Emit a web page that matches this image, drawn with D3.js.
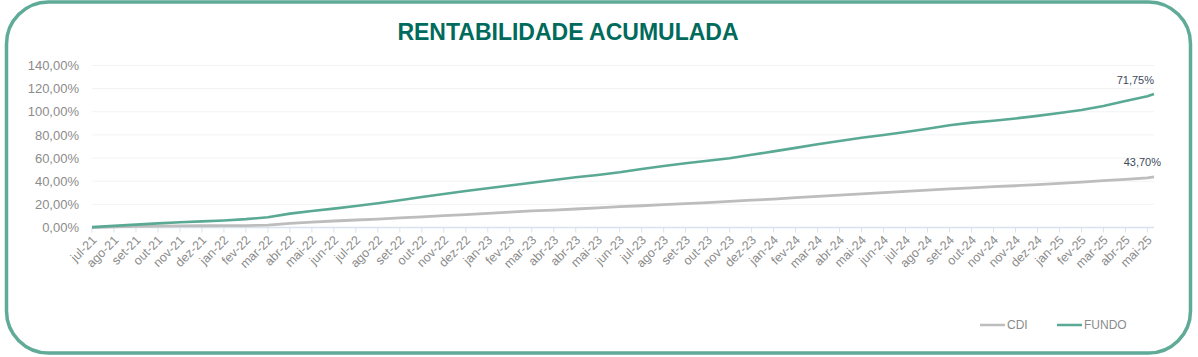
<!DOCTYPE html>
<html>
<head>
<meta charset="utf-8">
<script src="https://cdn.jsdelivr.net/npm/d3@7/dist/d3.min.js"></script>
<style>
  html, body { margin: 0; padding: 0; background: #ffffff; }
  svg { display: block; font-family: "Liberation Sans", Arial, sans-serif; }
</style>
</head>
<body>
<svg id="chart" width="1198" height="357"></svg>
<script>
// ---------- DATA ----------
const title = "RENTABILIDADE ACUMULADA";
const categories = [
  "jul-21","ago-21","set-21","out-21","nov-21","dez-21",
  "jan-22","fev-22","mar-22","abr-22","mai-22","jun-22","jul-22","ago-22","set-22","out-22","nov-22","dez-22",
  "jan-23","fev-23","mar-23","abr-23","abr-23","mai-23","jun-23","jul-23","ago-23","set-23","out-23","nov-23","dez-23",
  "jan-24","fev-24","mar-24","abr-24","mai-24","jun-24","jul-24","ago-24","set-24","out-24","nov-24","nov-24","dez-24",
  "jan-25","fev-25","mar-25","abr-25","mai-25"
];
// values (%) at each labelled position, plus one final point just after the last label
const fundo = [
  0.3, 1.4, 2.5, 3.6, 4.5, 5.3, 6.1, 7.2, 8.8, 12.0, 14.2, 16.3, 18.6, 21.0, 23.5, 26.3, 29.0, 31.5,
  33.9, 36.3, 38.7, 41.0, 43.4, 45.4, 47.7, 50.6, 53.2, 55.5, 57.7, 59.8, 62.8,
  65.8, 68.8, 71.9, 74.8, 77.6, 80.0, 82.5, 85.4, 88.3, 90.6, 92.3, 94.2, 96.5,
  98.9, 101.6, 105.0, 109.3, 113.5, 115.3
];
const cdi = [
  0.0, 0.5, 0.9, 1.2, 1.4, 1.5, 1.6, 1.7, 2.0, 3.6, 4.7, 5.6, 6.5, 7.3, 8.3, 9.2, 10.2, 11.2,
  12.2, 13.2, 14.3, 15.1, 16.0, 17.0, 18.0, 18.8, 19.7, 20.6, 21.5, 22.5, 23.6,
  24.6, 25.8, 26.9, 28.0, 29.1, 30.2, 31.3, 32.3, 33.3, 34.3, 35.3, 36.1, 37.1,
  38.2, 39.3, 40.5, 41.6, 42.8, 43.7
];
const lastPointOffset = 0.3; // final point lies this fraction of a step after the last label
const endLabels = { FUNDO: "71,75%", CDI: "43,70%" };
const yTicks = [0, 20, 40, 60, 80, 100, 120, 140];
const legendItems = ["CDI", "FUNDO"];

// ---------- STYLE ----------
const colors = { FUNDO: "#5aa994", CDI: "#bdbdbd" };
const W = 1198, H = 357;
const margin = { left: 92, right: 44, top: 65.5, bottom: 129.5 };

const svg = d3.select("#chart");

// frame
svg.append("rect")
  .attr("x", 6.5).attr("y", 2).attr("width", W - 14).attr("height", H - 6)
  .attr("rx", 42).attr("ry", 42)
  .attr("fill", "none").attr("stroke", "#5fab97").attr("stroke-width", 3.5);

// title
svg.append("text")
  .attr("x", 568).attr("y", 40)
  .attr("text-anchor", "middle")
  .attr("font-size", 23).attr("font-weight", "bold")
  .attr("fill", "#006b5d")
  .text(title);

const n = categories.length;
const x = d3.scaleLinear()
  .domain([0, n - 1 + lastPointOffset])
  .range([margin.left, W - margin.right]);
const y = d3.scaleLinear().domain([0, 140]).range([H - margin.bottom, margin.top]);

const idx = i => (i < n ? i : n - 1 + lastPointOffset);

// gridlines
svg.append("g").selectAll("line").data(yTicks.filter(t => t > 0)).join("line")
  .attr("x1", x(0)).attr("x2", x(n - 1 + lastPointOffset))
  .attr("y1", d => y(d)).attr("y2", d => y(d))
  .attr("stroke", "#f0f2f4").attr("stroke-width", 1);

// y axis labels
const yAxis = d3.axisLeft(y).tickValues(yTicks).tickSize(0).tickPadding(13)
  .tickFormat(d => d3.format(".2f")(d).replace(".", ",") + "%");
const gy = svg.append("g").attr("transform", `translate(${x(0)},0)`).call(yAxis);
gy.select(".domain").remove();
gy.selectAll("text").attr("font-size", 13).attr("fill", "#8c8c8c")
  .attr("font-family", "Liberation Sans, Arial, sans-serif");

// x axis
const gx = svg.append("g").attr("transform", `translate(0,${y(0)})`);
gx.append("line")
  .attr("x1", x(0)).attr("x2", x(n - 1 + lastPointOffset))
  .attr("stroke", "#d8e3ee").attr("stroke-width", 1.5);
gx.selectAll("line.tick").data(categories).join("line")
  .attr("class", "tick")
  .attr("x1", (d, i) => x(i)).attr("x2", (d, i) => x(i))
  .attr("y1", 0).attr("y2", 5)
  .attr("stroke", "#d8e3ee").attr("stroke-width", 1);
gx.selectAll("text").data(categories).join("text")
  .attr("transform", (d, i) => `translate(${x(i) + 3},${11}) rotate(-45)`)
  .attr("text-anchor", "end")
  .attr("dominant-baseline", "middle")
  .attr("font-size", 12.5).attr("fill", "#8c8c8c")
  .text(d => d);

// lines
const line = d3.line().x((d, i) => x(idx(i))).y(d => y(d));
svg.append("path").datum(cdi)
  .attr("d", line).attr("fill", "none")
  .attr("stroke", colors.CDI).attr("stroke-width", 2.8).attr("stroke-linejoin", "round");
svg.append("path").datum(fundo)
  .attr("d", line).attr("fill", "none")
  .attr("stroke", colors.FUNDO).attr("stroke-width", 2.6).attr("stroke-linejoin", "round");

// end labels
const lastI = fundo.length - 1;
svg.append("text")
  .attr("x", x(idx(lastI))).attr("y", y(fundo[lastI]) - 10)
  .attr("text-anchor", "end").attr("font-size", 11).attr("fill", "#3d4a5c")
  .text(endLabels.FUNDO);
svg.append("text")
  .attr("x", x(idx(lastI)) + 7).attr("y", y(cdi[lastI]) - 11)
  .attr("text-anchor", "end").attr("font-size", 11).attr("fill", "#3d4a5c")
  .text(endLabels.CDI);

// legend
const legendPos = { CDI: 980, FUNDO: 1057 };
const lg = svg.append("g").attr("transform", "translate(0,325)");
legendItems.forEach(k => {
  lg.append("line").attr("x1", legendPos[k]).attr("x2", legendPos[k] + 25)
    .attr("y1", 0).attr("y2", 0)
    .attr("stroke", colors[k]).attr("stroke-width", 2.5);
  lg.append("text").attr("x", legendPos[k] + 27).attr("y", 0)
    .attr("dominant-baseline", "central")
    .attr("font-size", 12).attr("fill", "#8c8c8c").text(k);
});
</script>
</body>
</html>
